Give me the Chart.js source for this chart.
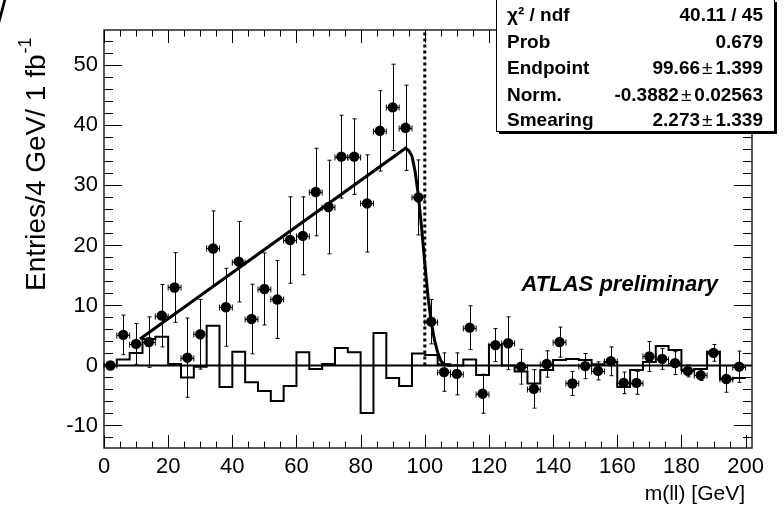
<!DOCTYPE html>
<html><head><meta charset="utf-8">
<script src="https://cdn.jsdelivr.net/npm/chart.js@4"></script>
<style>html,body{margin:0;padding:0;background:#fff}#wrap{width:784px;height:514px;position:relative}</style>
</head><body><div id="wrap"><canvas id="c" width="784" height="514"></canvas></div>
<script>
// ---- data ----
const binCenters = [2,6,10,14,18,22,26,30,34,38,42,46,50,54,58,62,66,70,74,78,82,86,90,94,98,102,106,110,114,118,122,126,130,134,138,142,146,150,154,158,162,166,170,174,178,182,186,190,194,198];
const binEdges   = [0,4,8,12,16,20,24,28,32,36,40,44,48,52,56,60,64,68,72,76,80,84,88,92,96,100,104,108,112,116,120,124,128,132,136,140,144,148,152,156,160,164,168,172,176,180,184,188,192,196,200];
const dataValues = [0,5.1,3.6,3.9,8.3,13.0,1.3,5.2,19.5,9.7,17.3,7.75,12.75,11.0,20.9,21.6,28.9,26.4,34.8,34.8,27.0,39.1,43.0,39.6,28.0,7.3,-1.1,-1.4,6.3,-4.7,3.4,3.7,-0.2,-3.9,0.25,3.9,-3.0,-0.1,-0.9,0.7,-2.9,-2.9,1.5,1.1,0.4,-0.9,-1.6,2.1,-2.25,-0.2];
const dataErrors = [0,3.3,3.4,4.2,5.2,5.8,6.6,5.8,6.25,6.5,6.7,5.8,6.0,6.5,7.2,6.5,7.3,7.8,6.9,6.3,8.1,6.7,7.2,7.1,6.25,3.7,3.2,3.5,3.65,3.25,2.75,4.4,2.9,3.2,2.2,2.5,2.0,2.1,1.5,2.4,1.8,1.9,2.5,1.75,1.9,1.0,0.9,1.4,2.2,2.6];
const binHalfWidth = 2;
const histValues = [0,1.0,2.1,4.4,4.8,0.25,-2.0,-0.2,6.6,-3.6,2.3,-2.8,-4.25,-5.9,-3.4,2.2,-0.6,0.25,2.9,2.2,-7.9,5.4,-2.1,-3.4,2.0,1.75,0.2,0.0,1.0,-1.6,3.4,0.0,-1.0,-3.0,-0.75,0.9,1.1,0.9,0.2,0.6,-3.6,-0.75,0.6,3.25,2.6,-0.75,-0.6,2.3,-2.3,-2.1];
const fitX = [11.2,94,95,96,97,98,99,100,101,102,103,104,105,106,108];
const fitY = [4.4,36.2,35.8,34.9,32.3,28.3,23,17,11.5,7.3,4.3,2.2,0.8,0.2,0];
const endpointX = 100;
const xMin = 0, xMax = 202, yMin = -13.75, yMax = 55.9;
const xTicks = [0,20,40,60,80,100,120,140,160,180,200];
const yTicks = [-10,0,10,20,30,40,50];
const statsLabels = ['\u03c7\u00b2 / ndf','Prob','Endpoint','Norm.','Smearing'];
const statsValues = [['40.11 / 45'],['0.679'],['99.66','1.399'],['-0.3882','0.02563'],['2.273','1.339']];
const yTitle = 'Entries/4 GeV/ 1 fb';
const yTitleSup = '-1';
const xTitle = 'm(ll) [GeV]';
const label = 'ATLAS preliminary';

const FONT = "'Liberation Sans', Arial, Helvetica, sans-serif";

const rootPlugin = {
  id: 'rootStyle',
  beforeDatasetsDraw(chart) {
    const ctx = chart.ctx, xs = chart.scales.x, ys = chart.scales.y;
    ctx.save();
    ctx.strokeStyle = '#000'; ctx.lineWidth = 1;
    const seg = (a,b,c,d)=>{ctx.beginPath();ctx.moveTo(a,b);ctx.lineTo(c,d);ctx.stroke();};
    binCenters.forEach((x,i)=>{
      const px = Math.round(xs.getPixelForValue(x)) + 0.5;
      const py = Math.round(ys.getPixelForValue(dataValues[i])) + 0.5;
      const e = dataErrors[i];
      if (e > 0) {
        const t = ys.getPixelForValue(dataValues[i]+e), b = ys.getPixelForValue(dataValues[i]-e);
        seg(px,t,px,b); seg(px-2,t,px+2,t); seg(px-2,b,px+2,b);
      }
      const l = xs.getPixelForValue(x-binHalfWidth), r = xs.getPixelForValue(x+binHalfWidth);
      seg(l,py,r,py); seg(l,py-3,l,py+3); seg(r,py-3,r,py+3);
    });
    ctx.restore();
  },
  afterDraw(chart) {
    const ctx = chart.ctx, xs = chart.scales.x, ys = chart.scales.y, a = chart.chartArea;
    ctx.save();
    ctx.strokeStyle = '#000'; ctx.lineWidth = 1.3;
    ctx.strokeRect(a.left, a.top, a.right-a.left, a.bottom-a.top);
    ctx.lineWidth = 1;
    const seg = (p,q,r,s)=>{ctx.beginPath();ctx.moveTo(p,q);ctx.lineTo(r,s);ctx.stroke();};
    for (let v = xMin; v <= xMax; v += 5) {
      const px = Math.round(xs.getPixelForValue(v)) + 0.5;
      const L = (v % 20 === 0) ? 13 : 6.5;
      seg(px, a.bottom, px, a.bottom - L);
      seg(px, a.top, px, a.top + L);
    }
    for (let v = -12; v <= yMax; v += 2) {
      const py = Math.round(ys.getPixelForValue(v)) + 0.5;
      const L = (v % 10 === 0) ? 18 : 9;
      seg(a.left, py, a.left + L, py);
      seg(a.right, py, a.right - L, py);
    }
    // stats box
    const bx = 496, by = -1, bw = 278, bh = 132;
    ctx.fillStyle = '#fff';
    ctx.fillRect(bx, by, bw, bh);
    ctx.strokeRect(bx+0.5, by+0.5, bw, bh);
    ctx.fillStyle = '#000';
    ctx.fillRect(bx+3, by+bh+1, bw, 2);
    ctx.fillRect(bx+bw+1, by+3, 2, bh);
    const rows = [16, 43, 69, 96, 121];
    ctx.textBaseline = 'middle';
    statsLabels.forEach((s,i)=>{
      ctx.font = 'bold 19px ' + FONT;
      ctx.textAlign = 'left';
      ctx.fillText(s, 507, rows[i]);
      const v = statsValues[i];
      ctx.textAlign = 'right';
      let xr = 763;
      if (v.length === 1) { ctx.fillText(v[0], xr, rows[i]); }
      else {
        ctx.fillText(v[1], xr, rows[i]);
        xr -= ctx.measureText(v[1]).width + 3;
        ctx.font = '19px ' + FONT;
        ctx.fillText('\u00b1', xr, rows[i]);
        xr -= ctx.measureText('\u00b1').width + 2;
        ctx.font = 'bold 19px ' + FONT;
        ctx.fillText(v[0], xr, rows[i]);
      }
    });
    ctx.font = 'italic bold 22px ' + FONT;
    ctx.textAlign = 'right';
    ctx.fillText(label, 718, 285);
    ctx.font = '21px ' + FONT;
    ctx.textAlign = 'right';
    ctx.fillText(xTitle, 745, 494);
    ctx.save();
    ctx.translate(37, 291);
    ctx.rotate(-Math.PI/2);
    ctx.font = '28px ' + FONT;
    ctx.textAlign = 'left';
    ctx.fillText(yTitle, 0, 0);
    const w = ctx.measureText(yTitle).width;
    ctx.font = '18px ' + FONT;
    ctx.fillText(yTitleSup, w + 1, -11);
    ctx.restore();
    ctx.font = '36px ' + FONT;
    ctx.textAlign = 'left';
    ctx.textBaseline = 'top';
    ctx.fillText('/', -3, -4);
    ctx.restore();
  }
};

new Chart(document.getElementById('c').getContext('2d'), {
  type: 'scatter',
  data: { datasets: [
    { label: 'data', data: binCenters.map((x,i)=>({x, y: dataValues[i]})), pointRadius: 5.2, pointBackgroundColor: '#000', pointBorderColor: '#000', pointBorderWidth: 0, showLine: false },
    { label: 'fit', type: 'line', data: fitX.map((x,i)=>({x, y: fitY[i]})), borderColor: '#000', borderWidth: 3, pointRadius: 0, tension: 0, fill: false },
    { label: 'hist', type: 'line', data: binEdges.map((x,i)=>({x, y: histValues[Math.min(i, histValues.length-1)]})), borderColor: '#000', borderWidth: 2, pointRadius: 0, stepped: 'before', fill: false },
    { label: 'zero', type: 'line', data: [{x: xMin, y: 0}, {x: xMax, y: 0}], borderColor: '#000', borderWidth: 2, pointRadius: 0 },
    { label: 'endpoint', type: 'line', data: [{x: endpointX, y: 0}, {x: endpointX, y: yMax}], borderColor: '#000', borderWidth: 3, borderDash: [3,3], pointRadius: 0 }
  ]},
  options: {
    animation: false, responsive: false, devicePixelRatio: 1,
    layout: { padding: { top: 30, right: 32, left: 0, bottom: 0 } },
    plugins: { legend: { display: false }, tooltip: { enabled: false } },
    scales: {
      x: { type: 'linear', min: xMin, max: xMax,
        afterBuildTicks: s => { s.ticks = xTicks.map(v=>({value: v})); },
        afterFit: s => { s.height = 66; },
        grid: { display: false, drawTicks: false }, border: { display: false },
        ticks: { font: { family: FONT, size: 22 }, color: '#000', padding: 6, maxRotation: 0, autoSkip: false } },
      y: { type: 'linear', min: yMin, max: yMax,
        afterBuildTicks: s => { s.ticks = yTicks.map(v=>({value: v})); },
        afterFit: s => { s.width = 104; },
        grid: { display: false, drawTicks: false }, border: { display: false },
        ticks: { font: { family: FONT, size: 22 }, color: '#000', padding: 6, autoSkip: false } }
    }
  },
  plugins: [rootPlugin]
});
</script></body></html>
